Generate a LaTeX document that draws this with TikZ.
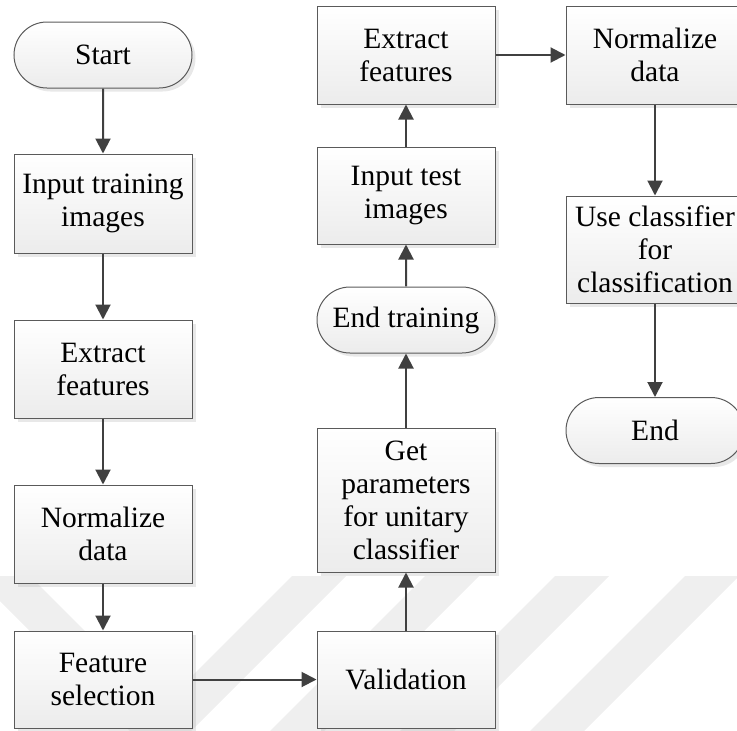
\documentclass[tikz,border=0pt]{standalone}
\usepackage{fontspec}
\setmainfont{Liberation Serif}
\usetikzlibrary{arrows.meta,shapes.misc,shadows}

\definecolor{linec}{HTML}{404040}
\definecolor{borderc}{HTML}{5A5A5A}
\definecolor{wm}{HTML}{EFEFEF}

\begin{document}
\begin{tikzpicture}[x=1pt,y=-1pt,
  box/.style={draw=borderc, line width=1pt, top color=white, bottom color=gray!15,
    minimum width=178pt, inner sep=0pt, align=center,
    font=\fontsize{29.5}{33}\selectfont,
    drop shadow={shadow xshift=3.5pt, shadow yshift=-3.5pt, fill=gray!60, opacity=0.3}},
  term/.style={box, rounded rectangle, minimum height=66pt},
  conn/.style={draw=linec, line width=2pt, -{Triangle[length=15pt,width=15pt]}}
]
\useasboundingbox (0,0) rectangle (737,731);

% watermark stripes
\fill[wm] (-25,576) -- (30,576) -- (194,740) -- (139,740) -- cycle;
\foreach \L in {292,425,555,685}
  \fill[wm] (\L,576) -- ({\L+54},576) -- ({\L-110},740) -- ({\L-164},740) -- cycle;

% left column
\node[term] (start) at (103,55) {Start};
\node[box, minimum height=99pt] (input) at (103,203.5) {Input training\\images};
\node[box, minimum height=98pt] (ext1) at (103,369) {Extract\\features};
\node[box, minimum height=98pt] (norm1) at (103,534) {Normalize\\data};
\node[box, minimum height=97pt] (feat) at (103,679.5) {Feature\\selection};

% middle column
\node[box, minimum height=97pt] (valid) at (406,679.5) {Validation};
\node[box, minimum height=144pt] (param) at (406,500) {Get\\parameters\\for unitary\\classifier};
\node[term] (endtr) at (406,320) {End training};
\node[box, minimum height=97pt] (test) at (406,195.5) {Input test\\images};
\node[box, minimum height=98pt] (ext2) at (406,55) {Extract\\features};

% right column
\node[box, minimum height=98pt] (norm2) at (655,55) {Normalize\\data};
\node[box, minimum height=107pt] (use) at (655,249.5) {Use classifier\\for\\classification};
\node[term] (end) at (655,430.5) {End};

% connectors
\draw[conn] (start) -- (input);
\draw[conn] (input) -- (ext1);
\draw[conn] (ext1) -- (norm1);
\draw[conn] (norm1) -- (feat);
\draw[conn] (feat) -- (valid);
\draw[conn] (valid) -- (param);
\draw[conn] (param) -- (endtr);
\draw[conn] (endtr) -- (test);
\draw[conn] (test) -- (ext2);
\draw[conn] (ext2) -- (norm2);
\draw[conn] (norm2) -- (use);
\draw[conn] (use) -- (end);
\end{tikzpicture}
\end{document}
